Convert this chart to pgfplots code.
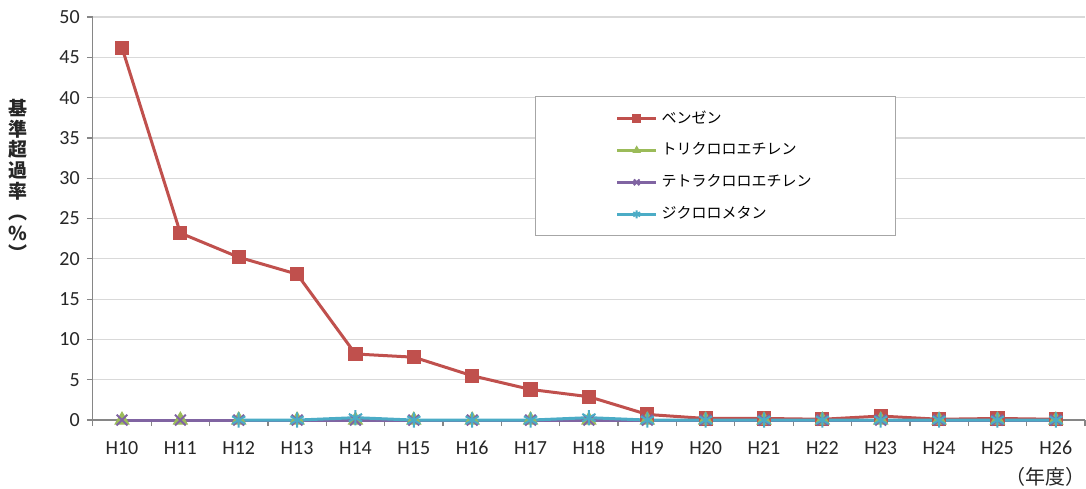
\documentclass[border=0pt]{standalone}
\usepackage{fontspec}
\setmainfont{Carlito}
\newfontfamily\jp{Noto Sans CJK JP}
\usepackage{pgfplots}
\pgfplotsset{compat=1.18}
\definecolor{cBen}{HTML}{C0504D}
\definecolor{cTri}{HTML}{9BBB59}
\definecolor{cTet}{HTML}{8064A2}
\definecolor{cDic}{HTML}{4BACC6}
\definecolor{axgray}{HTML}{868686}
\definecolor{gridgray}{HTML}{D9D9D9}
\begin{document}
\begin{tikzpicture}
\begin{axis}[name=ax, scale only axis, width=496pt, height=201.5pt,
  xmin=-0.5, xmax=16.5, ymin=0, ymax=50,
  axis x line*=bottom, axis y line*=left,
  axis line style={-, draw=axgray, line width=0.6pt},
  xtick={0,...,16},
  xticklabels={H10,H11,H12,H13,H14,H15,H16,H17,H18,H19,H20,H21,H22,H23,H24,H25,H26},
  minor xtick={-0.5,0.5,...,16.5},
  ytick={0,5,...,50},
  tick align=outside,
  major tick length=3pt, minor tick length=3pt,
  x tick style={draw=none},
  minor x tick style={draw=axgray, line width=0.6pt},
  y tick style={draw=axgray, line width=0.6pt},
  ymajorgrids, major grid style={draw=gridgray, line width=0.6pt},
  /pgf/number format/assume math mode=true,
  ticklabel style={font=\fontsize{10}{12}\selectfont, text=black!85},
  xticklabel style={yshift=-4pt},
  clip=false,
  legend style={at={(rel axis cs:0.446,0.804)}, anchor=north west,
    draw=gray!70, line width=0.5pt, font=\jp\fontsize{7.5}{9}\selectfont,
    inner xsep=40pt, inner ysep=5pt, row sep=4.4pt, cells={anchor=west}},
  legend image code/.code={\draw[mark repeat=2,mark phase=2,#1] plot coordinates {(0cm,0cm) (0.34cm,0cm) (0.68cm,0cm)};},
  legend image post style={mark size=2pt},
  every axis plot/.append style={line width=1.5pt},
]
\addplot[cBen, mark=square*, mark size=3.3pt, mark options={fill=cBen, line width=0.5pt}] coordinates {
 (0,46.2) (1,23.2) (2,20.2) (3,18.1) (4,8.2) (5,7.8) (6,5.5) (7,3.8) (8,2.9) (9,0.7)
 (10,0.2) (11,0.2) (12,0.1) (13,0.5) (14,0.1) (15,0.2) (16,0.1)};
\addlegendentry{ベンゼン}
\addplot[cTri, mark=triangle*, mark size=4pt, mark options={fill=cTri, line width=0.5pt}] coordinates {
 (0,0) (1,0) (2,0) (3,0) (4,0) (5,0) (6,0) (7,0) (8,0) (9,0)
 (10,0) (11,0) (12,0) (13,0) (14,0) (15,0) (16,0)};
\addlegendentry{トリクロロエチレン}
\addplot[cTet, mark=x, mark size=3.8pt, mark options={line width=1pt}] coordinates {
 (0,0) (1,0) (2,0) (3,0) (4,0) (5,0) (6,0) (7,0) (8,0) (9,0)
 (10,0) (11,0) (12,0) (13,0) (14,0) (15,0) (16,0)};
\addlegendentry{テトラクロロエチレン}
\addplot[cDic, mark=asterisk, mark size=3.8pt, mark options={line width=1pt}] coordinates {
 (2,0) (3,0) (4,0.3) (5,0) (6,0) (7,0) (8,0.3) (9,0)
 (10,0) (11,0) (12,0) (13,0) (14,0) (15,0) (16,0)};
\addlegendentry{ジクロロメタン}
\end{axis}
\node[font=\jp\bfseries\fontsize{9.5}{10.4}\selectfont, align=center, text=black!85]
  at ([shift={(-37.4pt,120pt)}]ax.south west) {基\\準\\超\\過\\率\\︵\\\%\\︶};
\node[font=\jp\fontsize{10}{12}\selectfont, anchor=east, inner sep=0pt, text=black!85]
  at ([shift={(-1.5pt,-28.5pt)}]ax.south east) {（年度）\kern-2pt};
\path[use as bounding box] ([shift={(-46.4pt,-34pt)}]ax.south west) rectangle ([shift={(0.5pt,8.5pt)}]ax.north east);
\end{tikzpicture}
\end{document}
